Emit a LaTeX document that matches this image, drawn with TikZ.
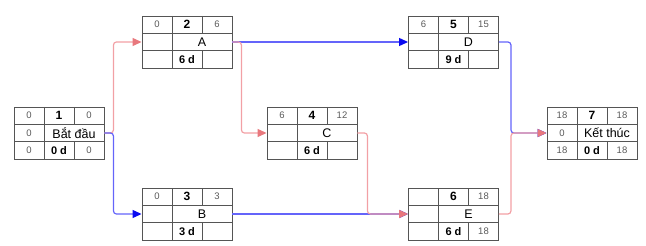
\documentclass[tikz,border=0pt]{standalone}
\usepackage{fontspec}
\setmainfont{Liberation Sans}
\usetikzlibrary{arrows.meta}
\definecolor{linkpink}{RGB}{242,160,165}
\definecolor{tippink}{RGB}{232,120,125}
\definecolor{linkblue}{RGB}{100,100,250}
\definecolor{tipblue}{RGB}{10,10,240}
\definecolor{gridgray}{RGB}{85,85,85}

\begin{document}
\begin{tikzpicture}[x=1pt,y=-1pt,
  taskbox/.style={draw=gridgray,line width=0.9pt,minimum width=90pt,minimum height=52pt,inner sep=0pt},
  gridline/.style={draw=gridgray,line width=0.9pt},
  cellnum/.style={font=\fontsize{9.5}{10}\selectfont,text=gray!70!black,inner sep=0pt},
  tasknum/.style={font=\fontsize{12}{13}\selectfont\bfseries,inner sep=0pt},
  taskname/.style={font=\fontsize{12.5}{13}\selectfont,inner sep=0pt},
  taskdur/.style={font=\fontsize{11}{12}\selectfont\bfseries,inner sep=0pt},
  pinklink/.style={draw=linkpink,line width=1.2pt,rounded corners=3pt,-{Triangle[length=9pt,width=8pt,color=tippink]}},
  bluelink/.style={draw=linkblue,line width=1.2pt,rounded corners=3pt,-{Triangle[length=9pt,width=8pt,color=tipblue]}}]
  \useasboundingbox (0,0) rectangle (646,246);
  % one box per task: name/x/y, then the cells row by row
  \foreach \nm/\x/\y/\tl/\tm/\tr/\ml/\lbl/\bl/\bm/\br in {
      s/59/133/0/1/0/0/Bắt đầu/0/0 d/0,
      a/187/42/0/2/6/{}/A/{}/6 d/{},
      c/312/133/6/4/12/{}/C/{}/6 d/{},
      b/187/214/0/3/3/{}/B/{}/3 d/{},
      d/453.5/42/6/5/15/{}/D/{}/9 d/{},
      e/453.5/214/{}/6/18/{}/E/{}/6 d/18,
      f/592/133/18/7/18/0/Kết thúc/18/0 d/18}{
    \node[taskbox] (\nm) at (\x,\y) {};
    \draw[gridline] ({\x-45},{\y-8.67}) -- ({\x+45},{\y-8.67})
      ({\x-45},{\y+8.67}) -- ({\x+45},{\y+8.67})
      ({\x-15},{\y-26}) -- ({\x-15},{\y+26})
      ({\x+15},{\y-26}) -- ({\x+15},{\y-8.67})
      ({\x+15},{\y+8.67}) -- ({\x+15},{\y+26});
    \node[cellnum] (\nm-tl) at ({\x-30},{\y-17.33}) {\tl};
    \node[tasknum] (\nm-tm) at (\x,{\y-17.33}) {\tm};
    \node[cellnum] (\nm-tr) at ({\x+30},{\y-17.33}) {\tr};
    \node[cellnum] (\nm-ml) at ({\x-30},\y) {\ml};
    \node[taskname] (\nm-lbl) at ({\x+15},\y) {\lbl};
    \node[cellnum] (\nm-bl) at ({\x-30},{\y+17.33}) {\bl};
    \node[taskdur] (\nm-bm) at (\x,{\y+17.33}) {\bm};
    \node[cellnum] (\nm-br) at ({\x+30},{\y+17.33}) {\br};
  }
  % dependencies
  \draw[pinklink] (s.east) -- ++(9,0) |- (a.west);
  \draw[bluelink] (s.east) -- ++(9,0) |- (b.west);
  \draw[bluelink] (a.east) -- (d.west);
  \draw[pinklink] (a.east) -- ++(9,0) |- (c.west);
  \draw[bluelink] (b.east) -- (e.west);
  \draw[pinklink] (c.east) -- ++(10,0) |- (e.west);
  \draw[bluelink] (d.east) -- ++(12,0) |- (f.west);
  \draw[pinklink] (e.east) -- ++(12,0) |- (f.west);
\end{tikzpicture}
\end{document}
